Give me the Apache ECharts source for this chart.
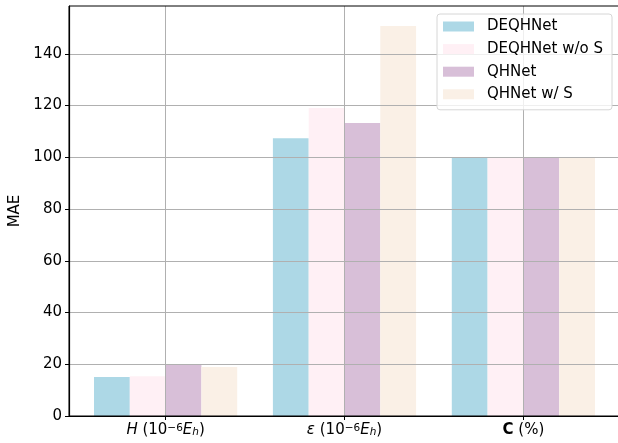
<!DOCTYPE html>
<html>
<head>
<meta charset="utf-8">
<script src="https://cdn.jsdelivr.net/npm/echarts@6/dist/echarts.min.js"></script>
<style>html,body{margin:0;padding:0;background:#fff;}#c{width:618px;height:443px;}</style>
</head>
<body>
<div id="c"></div>
<script>
var categories = ['H', 'eps', 'C'];
var seriesNames = ['DEQHNet', 'DEQHNet w/o S', 'QHNet', 'QHNet w/ S'];
var deqhnet = [15.1, 107.4, 100];
var deqhnetWoS = [15.4, 119.1, 100];
var qhnet = [19.8, 113.3, 100];
var qhnetWS = [18.9, 150.8, 100];
var yTicks = [0, 20, 40, 60, 80, 100, 120, 140];
var yGrid = [20, 40, 60, 80, 100, 120, 140];
var colors = ['#ADD8E6', '#FFF0F5', '#D8BFD8', '#FAF0E6'];

var labelRich = {
  '0': '{it|H} (10{sup|−6}{it|E}{sub|h})',
  '1': '{it|ε} (10{sup|−6}{it|E}{sub|h})',
  '2': '{b|C} (%)'
};

var font = 'DejaVu Sans';
var fs = 15;
var chart = echarts.init(document.getElementById('c'), null, {renderer: 'canvas'});
var allValues = [deqhnet, deqhnetWoS, qhnet, qhnetWS];
var series = seriesNames.map(function (n, i) {
  return {
    name: n,
    type: 'bar',
    z: 1,
    barWidth: 35.8,
    barGap: '0%',
    itemStyle: {color: colors[i]},
    data: allValues[i].map(function (v, k) { return [k, v]; })
  };
});

chart.setOption({
  animation: false,
  textStyle: {fontFamily: font},
  grid: {left: 69, top: 6, right: -2, bottom: 27, show: true, borderColor: '#000', borderWidth: 1, containLabel: false, outerBoundsMode: 'none', z: 6},
  legend: {
    orient: 'vertical', left: 437, top: 14, z: 8,
    itemWidth: 31, itemHeight: 10, itemGap: 5.6,
    padding: [4, 9, 7, 6],
    backgroundColor: 'rgba(255,255,255,0.8)',
    borderColor: '#d6d6d6', borderWidth: 1, borderRadius: 3,
    icon: 'rect',
    textStyle: {fontFamily: font, fontSize: fs, color: '#000', lineHeight: 17, padding: [0, 0, 0, 8]},
    data: seriesNames
  },
  xAxis: {
    type: 'value', min: -0.54, max: 2.54, z: 5,
    axisLine: {show: true, onZero: false, lineStyle: {color: '#000', width: 1.2}},
    axisTick: {show: true, length: 4, customValues: [0, 1, 2], lineStyle: {color: '#000'}},
    splitLine: {show: true, lineStyle: {color: '#b0b0b0', width: 1}},
    axisLabel: {
      customValues: [0, 1, 2], margin: 7, color: '#000', fontSize: fs, fontFamily: font,
      formatter: function (v) { return labelRich[String(Math.round(v))]; },
      rich: {
        it: {fontStyle: 'italic', fontSize: fs, fontFamily: font, color: '#000'},
        b: {fontWeight: 'bold', fontSize: fs, fontFamily: font, color: '#000'},
        sup: {fontSize: 10.5, fontFamily: font, color: '#000', verticalAlign: 'top', lineHeight: 10},
        sub: {fontSize: 10.5, fontStyle: 'italic', fontFamily: font, color: '#000', verticalAlign: 'bottom', lineHeight: 10}
      }
    }
  },
  yAxis: {
    type: 'value', min: 0, max: 158.5, z: 3,
    name: 'MAE', nameLocation: 'middle', nameGap: 44,
    nameTextStyle: {fontSize: fs, color: '#000', fontFamily: font},
    axisLine: {show: true, onZero: false, lineStyle: {color: '#000', width: 1.2}},
    axisTick: {show: true, length: 4, customValues: yTicks, lineStyle: {color: '#000'}},
    splitLine: {show: true, showMinLine: false, lineStyle: {color: '#b0b0b0', width: 1}},
    axisLabel: {customValues: yTicks, margin: 7, color: '#000', fontSize: fs, fontFamily: font}
  },
  series: series
});
</script>
</body>
</html>
